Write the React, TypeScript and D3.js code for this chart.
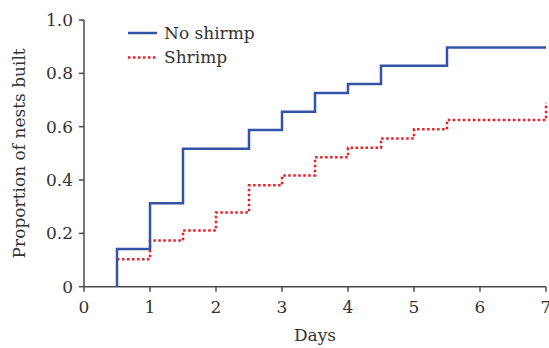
import React from "react";
import * as d3 from "d3";

const noShrimpDays = [0.5, 1, 1.5, 2.5, 3, 3.5, 4, 4.5, 5.5, 7];
const noShrimpProp = [0.141, 0.313, 0.517, 0.588, 0.656, 0.726, 0.76, 0.828, 0.897, 0.897];
const shrimpDays = [0.5, 1, 1.5, 2, 2.5, 3, 3.5, 4, 4.5, 5, 5.5, 7];
const shrimpProp = [0.103, 0.173, 0.211, 0.278, 0.38, 0.417, 0.485, 0.521, 0.556, 0.59, 0.625, 0.69];
const xTicks = [0, 1, 2, 3, 4, 5, 6, 7];
const yTicks = [0, 0.2, 0.4, 0.6, 0.8, 1.0];

const W = 549, H = 348;
const FONT = "'DejaVu Serif', 'Liberation Serif', serif";

export default function App() {
  const x = d3.scaleLinear().domain([0, 7]).range([84, 546]);
  const y = d3.scaleLinear().domain([0, 1]).range([286.7, 20]);

  const blueData: [number, number][] = [[noShrimpDays[0], 0]];
  noShrimpDays.forEach((d, i) => blueData.push([d, noShrimpProp[i]]));
  const redData: [number, number][] = shrimpDays.map((d, i) => [d, shrimpProp[i]]);

  const line = d3
    .line<[number, number]>()
    .x((d) => x(d[0]))
    .y((d) => y(d[1]))
    .curve(d3.curveStepAfter);

  const axisColor = "#4a4a4a";
  const textColor = "#333";
  const ts = { fontFamily: FONT, fontSize: "17px" } as React.CSSProperties;

  return (
    <svg width={W} height={H} style={{ position: "absolute", left: 0, top: 0 }}>
      <rect width={W} height={H} fill="#fff" />
      <line x1={x(0)} x2={x(7)} y1={y(0)} y2={y(0)} stroke={axisColor} strokeWidth={1.5} />
      <line x1={x(0)} x2={x(0)} y1={y(0)} y2={y(1)} stroke={axisColor} strokeWidth={1.5} />
      {xTicks.map((t) => (
        <g key={"x" + t}>
          <line x1={x(t)} x2={x(t)} y1={y(0)} y2={y(0) + 5} stroke={axisColor} strokeWidth={1.5} />
          <text x={x(t)} y={313} textAnchor="middle" style={ts} fill={textColor}>
            {t}
          </text>
        </g>
      ))}
      {yTicks.map((t) => (
        <g key={"y" + t}>
          <line x1={x(0) - 5} x2={x(0)} y1={y(t)} y2={y(t)} stroke={axisColor} strokeWidth={1.5} />
          <text x={73} y={y(t) + 6} textAnchor="end" style={ts} fill={textColor}>
            {t === 0 ? "0" : t.toFixed(1)}
          </text>
        </g>
      ))}
      <text x={(x(0) + x(7)) / 2} y={341} textAnchor="middle" style={ts} fill={textColor}>
        Days
      </text>
      <text
        transform={`translate(25,${(y(0) + y(1)) / 2}) rotate(-90)`}
        textAnchor="middle"
        style={ts}
        fill={textColor}
      >
        Proportion of nests built
      </text>
      <path d={line(redData) || ""} fill="none" stroke="#ee1c25" strokeWidth={2.5} strokeDasharray="2.5 2.5" />
      <path d={line(blueData) || ""} fill="none" stroke="#3453a6" strokeWidth={2.5} />
      <line x1={128} x2={157} y1={33} y2={33} stroke="#3453a6" strokeWidth={2.5} />
      <text x={164} y={39} style={ts} fill={textColor}>No shirmp</text>
      <line x1={128} x2={157} y1={57.5} y2={57.5} stroke="#ee1c25" strokeWidth={2.5} strokeDasharray="2.5 2.5" />
      <text x={164} y={63} style={ts} fill={textColor}>Shrimp</text>
    </svg>
  );
}
